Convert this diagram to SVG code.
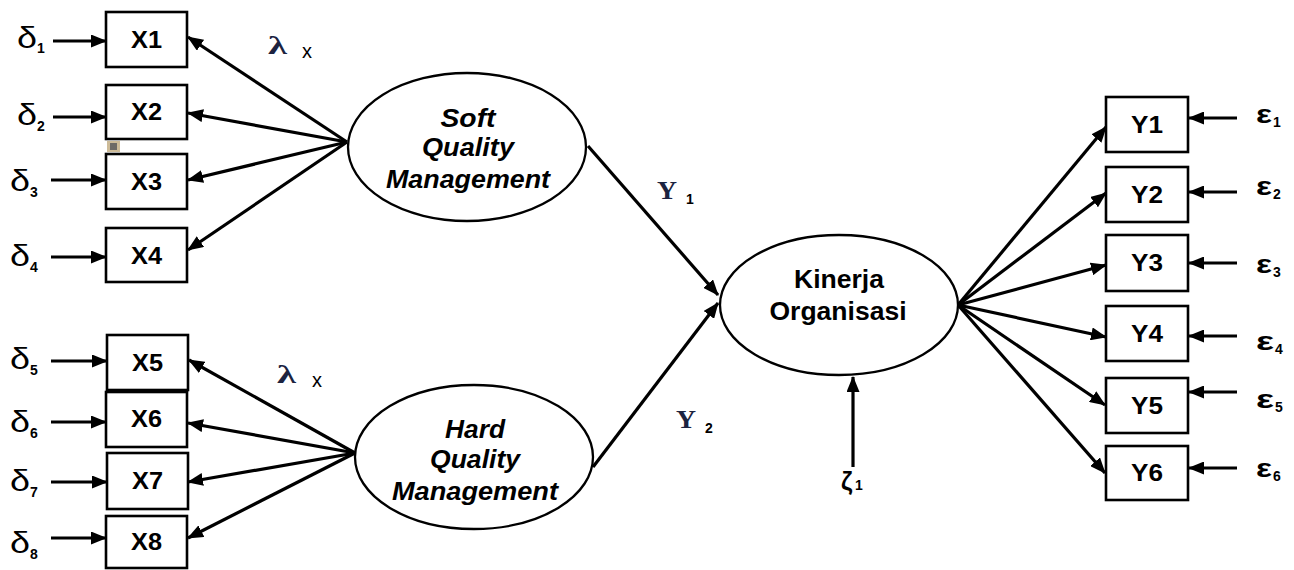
<svg xmlns="http://www.w3.org/2000/svg" width="1294" height="570" viewBox="0 0 1294 570">
  <style>
    .box { fill: #fff; stroke: #000; stroke-width: 2.6; }
    .lat { fill: #fff; stroke: #000; stroke-width: 2.3; }
    .arr { fill: none; stroke: #000; stroke-width: 3.2; marker-end: url(#ah); }
    .lbl { font-family: "Liberation Sans", Arial, sans-serif; font-weight: bold; font-size: 23px; text-anchor: middle; fill: #000; }
    .lv { font-family: "Liberation Sans", Arial, sans-serif; font-weight: bold; font-style: italic; font-size: 26px; text-anchor: middle; fill: #000; }
    .lk { font-family: "Liberation Sans", Arial, sans-serif; font-weight: bold; font-size: 25px; text-anchor: middle; fill: #000; }
    .err { font-family: "Liberation Sans", Arial, sans-serif; font-size: 29px; fill: #000; }
    .eps { font-family: "Liberation Sans", Arial, sans-serif; font-weight: bold; font-size: 25px; fill: #000; }
    .sub { font-family: "Liberation Sans", Arial, sans-serif; font-weight: bold; font-size: 14px; fill: #000; }
    .greek { font-family: "Liberation Serif", "Times New Roman", serif; font-weight: bold; font-size: 25px; fill: #1c2340; }
    .xs { font-family: "Liberation Sans", Arial, sans-serif; font-size: 20px; fill: #000; }
  </style>
  <defs>
    <marker id="ah" viewBox="0 0 16 13" refX="15" refY="6.5" markerWidth="16" markerHeight="13" orient="auto" markerUnits="userSpaceOnUse">
      <path d="M0,0 L16,6.5 L0,13 Z" fill="#000"/>
    </marker>
  </defs>

  <!-- connectors -->
  <g id="connectors">
    <!-- measurement errors into X indicators -->
    <path class="arr" d="M53,41 L106,41"/>
    <path class="arr" d="M53,117 L106,117"/>
    <path class="arr" d="M51,180 L106,180"/>
    <path class="arr" d="M51,257 L106,257"/>
    <path class="arr" d="M51,361 L107,361"/>
    <path class="arr" d="M51,422 L106,422"/>
    <path class="arr" d="M51,482 L107,482"/>
    <path class="arr" d="M51,538 L106,538"/>
    <!-- Soft Quality Management loadings -->
    <path class="arr" d="M347,142 L188,37"/>
    <path class="arr" d="M347,142 L188,113"/>
    <path class="arr" d="M347,142 L188,180"/>
    <path class="arr" d="M347,142 L188,250"/>
    <!-- Hard Quality Management loadings -->
    <path class="arr" d="M355,453 L189,360"/>
    <path class="arr" d="M355,453 L188,423"/>
    <path class="arr" d="M355,453 L188,482"/>
    <path class="arr" d="M355,453 L188,538"/>
    <!-- structural paths -->
    <path class="arr" d="M588,146 L718,295"/>
    <path class="arr" d="M593,467 L718,303"/>
    <!-- disturbance -->
    <path class="arr" d="M853,467 L853,377"/>
    <!-- Kinerja Organisasi loadings -->
    <path class="arr" d="M958,305 L1106,127"/>
    <path class="arr" d="M958,305 L1106,193"/>
    <path class="arr" d="M958,305 L1106,265"/>
    <path class="arr" d="M958,305 L1106,337"/>
    <path class="arr" d="M958,305 L1105,405"/>
    <path class="arr" d="M958,305 L1105,473"/>
    <!-- measurement errors into Y indicators -->
    <path class="arr" d="M1237,118 L1189,118"/>
    <path class="arr" d="M1237,192 L1189,192"/>
    <path class="arr" d="M1237,263 L1189,263"/>
    <path class="arr" d="M1237,336 L1189,336"/>
    <path class="arr" d="M1237,392 L1189,392"/>
    <path class="arr" d="M1237,468 L1189,468"/>
  </g>

  <!-- X indicators -->
  <g id="X1"><rect class="box" x="106" y="12" width="81" height="55"/><text class="lbl" x="146.5" y="48" textLength="31" lengthAdjust="spacingAndGlyphs">X1</text></g>
  <g id="X2"><rect class="box" x="106" y="85" width="81" height="54"/><text class="lbl" x="146.5" y="120" textLength="31" lengthAdjust="spacingAndGlyphs">X2</text></g>
  <g id="X3"><rect class="box" x="106" y="154" width="81" height="55"/><text class="lbl" x="146.5" y="190" textLength="31" lengthAdjust="spacingAndGlyphs">X3</text></g>
  <g id="X4"><rect class="box" x="106" y="228" width="81" height="54"/><text class="lbl" x="146.5" y="264" textLength="31" lengthAdjust="spacingAndGlyphs">X4</text></g>
  <g id="X5"><rect class="box" x="107" y="335" width="81" height="55"/><text class="lbl" x="147.5" y="371" textLength="31" lengthAdjust="spacingAndGlyphs">X5</text></g>
  <g id="X6"><rect class="box" x="106" y="392" width="81" height="55"/><text class="lbl" x="146.5" y="427" textLength="31" lengthAdjust="spacingAndGlyphs">X6</text></g>
  <g id="X7"><rect class="box" x="107" y="453" width="81" height="56"/><text class="lbl" x="147.5" y="489" textLength="31" lengthAdjust="spacingAndGlyphs">X7</text></g>
  <g id="X8"><rect class="box" x="106" y="516" width="81" height="52"/><text class="lbl" x="146.5" y="550" textLength="31" lengthAdjust="spacingAndGlyphs">X8</text></g>

  <!-- small embedded mark between X2 and X3 -->
  <g id="mark">
    <rect x="107" y="141" width="13" height="11" fill="#cdbb98"/>
    <rect x="110" y="143" width="7" height="7" fill="#6d6a66"/>
  </g>

  <!-- error labels for X -->
  <g id="delta-labels">
    <text class="err" x="17" y="48" textLength="20" lengthAdjust="spacingAndGlyphs">δ</text><text class="sub" x="37" y="53">1</text>
    <text class="err" x="17" y="125" textLength="20" lengthAdjust="spacingAndGlyphs">δ</text><text class="sub" x="37" y="131">2</text>
    <text class="err" x="10" y="191" textLength="20" lengthAdjust="spacingAndGlyphs">δ</text><text class="sub" x="30" y="197">3</text>
    <text class="err" x="10" y="266" textLength="20" lengthAdjust="spacingAndGlyphs">δ</text><text class="sub" x="30" y="272">4</text>
    <text class="err" x="10" y="369" textLength="20" lengthAdjust="spacingAndGlyphs">δ</text><text class="sub" x="30" y="375">5</text>
    <text class="err" x="10" y="432" textLength="20" lengthAdjust="spacingAndGlyphs">δ</text><text class="sub" x="30" y="438">6</text>
    <text class="err" x="10" y="491" textLength="20" lengthAdjust="spacingAndGlyphs">δ</text><text class="sub" x="30" y="497">7</text>
    <text class="err" x="10" y="553" textLength="20" lengthAdjust="spacingAndGlyphs">δ</text><text class="sub" x="30" y="559">8</text>
  </g>

  <!-- loading labels -->
  <g id="lambda-labels">
    <text class="greek" x="268" y="54" textLength="19" lengthAdjust="spacingAndGlyphs">λ</text><text class="xs" x="302" y="58">x</text>
    <text class="greek" x="277" y="383" textLength="19" lengthAdjust="spacingAndGlyphs">λ</text><text class="xs" x="312" y="387">x</text>
  </g>

  <!-- structural path labels -->
  <g id="gamma-labels">
    <text class="greek" x="657" y="199" font-size="27" textLength="20" lengthAdjust="spacingAndGlyphs">Y</text><text class="sub" x="686" y="204">1</text>
    <text class="greek" x="676" y="428" font-size="27" textLength="20" lengthAdjust="spacingAndGlyphs">Y</text><text class="sub" x="705" y="433">2</text>
  </g>

  <!-- latent variables -->
  <g id="soft-qm">
    <ellipse class="lat" cx="467" cy="147" rx="119" ry="74"/>
    <text class="lv" x="468" y="127" textLength="55" lengthAdjust="spacingAndGlyphs">Soft</text>
    <text class="lv" x="468" y="156" textLength="92" lengthAdjust="spacingAndGlyphs">Quality</text>
    <text class="lv" x="468" y="188" textLength="164" lengthAdjust="spacingAndGlyphs">Management</text>
  </g>
  <g id="hard-qm">
    <ellipse class="lat" cx="474" cy="457" rx="119" ry="72"/>
    <text class="lv" x="475" y="438" textLength="60" lengthAdjust="spacingAndGlyphs">Hard</text>
    <text class="lv" x="475" y="468" textLength="90" lengthAdjust="spacingAndGlyphs">Quality</text>
    <text class="lv" x="475" y="500" textLength="166" lengthAdjust="spacingAndGlyphs">Management</text>
  </g>
  <g id="kinerja">
    <ellipse class="lat" cx="839" cy="305" rx="119" ry="70"/>
    <text class="lk" x="839" y="288" textLength="90" lengthAdjust="spacingAndGlyphs">Kinerja</text>
    <text class="lk" x="838" y="320" textLength="137" lengthAdjust="spacingAndGlyphs">Organisasi</text>
  </g>

  <!-- disturbance label -->
  <g id="zeta">
    <text class="eps" x="841" y="490">ζ</text><text class="sub" x="855" y="490">1</text>
  </g>

  <!-- Y indicators -->
  <g id="Y1"><rect class="box" x="1106" y="97" width="82" height="55"/><text class="lbl" x="1147" y="133" textLength="32" lengthAdjust="spacingAndGlyphs">Y1</text></g>
  <g id="Y2"><rect class="box" x="1106" y="167" width="82" height="55"/><text class="lbl" x="1147" y="203" textLength="32" lengthAdjust="spacingAndGlyphs">Y2</text></g>
  <g id="Y3"><rect class="box" x="1106" y="235" width="82" height="56"/><text class="lbl" x="1147" y="271" textLength="32" lengthAdjust="spacingAndGlyphs">Y3</text></g>
  <g id="Y4"><rect class="box" x="1106" y="306" width="82" height="55"/><text class="lbl" x="1147" y="342" textLength="32" lengthAdjust="spacingAndGlyphs">Y4</text></g>
  <g id="Y5"><rect class="box" x="1106" y="378" width="82" height="55"/><text class="lbl" x="1147" y="414" textLength="32" lengthAdjust="spacingAndGlyphs">Y5</text></g>
  <g id="Y6"><rect class="box" x="1106" y="446" width="82" height="54"/><text class="lbl" x="1147" y="481" textLength="32" lengthAdjust="spacingAndGlyphs">Y6</text></g>

  <!-- error labels for Y -->
  <g id="epsilon-labels">
    <text class="eps" x="1256" y="123" textLength="16" lengthAdjust="spacingAndGlyphs">ε</text><text class="sub" x="1273" y="127">1</text>
    <text class="eps" x="1256" y="195" textLength="16" lengthAdjust="spacingAndGlyphs">ε</text><text class="sub" x="1273" y="199">2</text>
    <text class="eps" x="1256" y="273" textLength="16" lengthAdjust="spacingAndGlyphs">ε</text><text class="sub" x="1273" y="277">3</text>
    <text class="eps" x="1256" y="350" font-size="29" textLength="18" lengthAdjust="spacingAndGlyphs">ε</text><text class="sub" x="1275" y="354">4</text>
    <text class="eps" x="1256" y="408" font-size="29" textLength="18" lengthAdjust="spacingAndGlyphs">ε</text><text class="sub" x="1275" y="412">5</text>
    <text class="eps" x="1256" y="477" textLength="16" lengthAdjust="spacingAndGlyphs">ε</text><text class="sub" x="1273" y="481">6</text>
  </g>
</svg>
